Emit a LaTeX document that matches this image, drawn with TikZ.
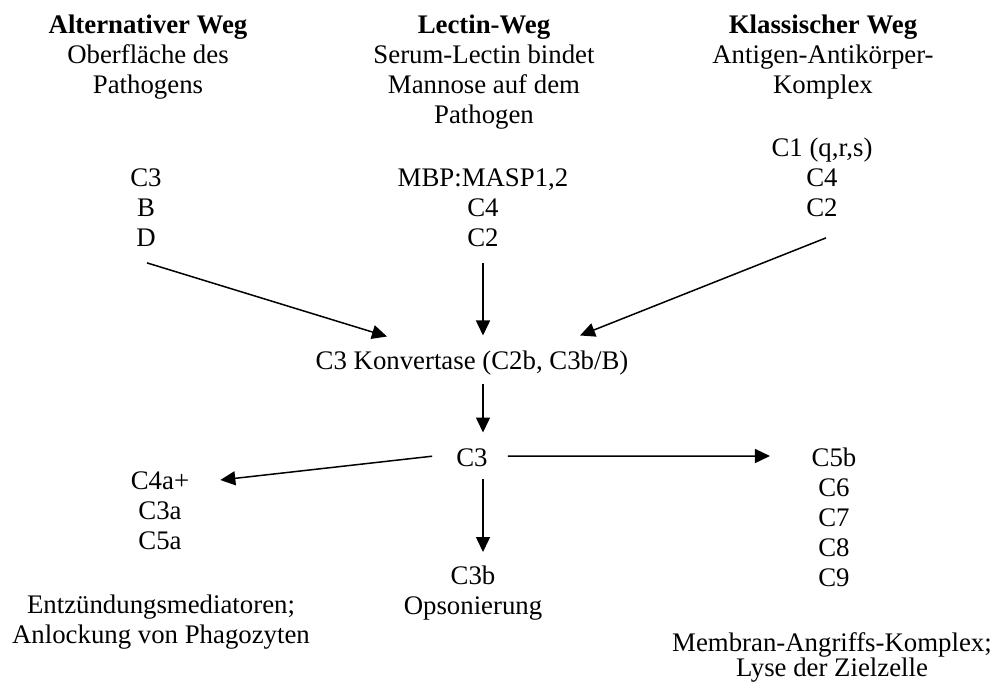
\documentclass[tikz,border=0pt]{standalone}
\usepackage{fontspec}
\setmainfont{Liberation Serif}
\usepackage{tikz}
\usetikzlibrary{arrows.meta}
\tikzset{txt/.style={align=center, inner sep=0, anchor=north, font=\fontsize{26.8}{30}\selectfont}}
\tikzset{flow/.style={-{Triangle[length=15pt, width=14pt]}, line width=1.5pt}}

\begin{document}
\begin{tikzpicture}[x=1pt, y=-1pt]
  \useasboundingbox (0, 0) rectangle (993, 684);

  % the three pathways
  \node[txt] at (148, 12.5) (altHead) {\strut\textbf{Alternativer Weg}\\\strut Oberfläche des\\\strut Pathogens};
  \node[txt] at (484, 12.5) (lecHead) {\strut\textbf{Lectin-Weg}\\\strut Serum-Lectin bindet\\\strut Mannose auf dem\\\strut Pathogen};
  \node[txt] at (823, 12.5) (klaHead) {\strut\textbf{Klassischer Weg}\\\strut Antigen-Antikörper-\\\strut Komplex};

  \node[txt] at (146, 165.5) (altComp) {\strut C3\\\strut B\\\strut D};
  \node[txt] at (483, 165.5) (lecComp) {\strut MBP:MASP1,2\\\strut C4\\\strut C2};
  \node[txt] at (822, 135.5) (klaComp) {\strut C1 (q,r,s)\\\strut C4\\\strut C2};

  \node[txt] at (472, 348.5) (konv) {\strut C3 Konvertase (C2b, C3b/B)};
  \node[txt] at (472, 445.5) (c3) {\strut C3};

  % products
  \node[txt] at (160, 468.5) (anaph) {\strut C4a+\\\strut C3a\\\strut C5a};
  \node[txt] at (161, 592.5) (entz) {\strut Entzündungsmediatoren;\\\strut Anlockung von Phagozyten};
  \node[txt] at (473, 563.5) (c3b) {\strut C3b\\\strut Opsonierung};
  \node[txt] at (834, 445.5) (mak) {\strut C5b\\\strut C6\\\strut C7\\\strut C8\\\strut C9};
  \node[txt] at (832, 630.5) (lyse) {\strut Membran-Angriffs-Komplex;\\[-5pt] Lyse der Zielzelle};

  \draw[flow] ([xshift=1pt, yshift=-7pt]altComp.south) -- ([xshift=-85pt, yshift=12pt]konv.north);
  \draw[flow] ([yshift=-7pt]lecComp.south) -- ([xshift=11pt, yshift=13pt]konv.north);
  \draw[flow] ([xshift=4pt, yshift=-12pt]klaComp.south) -- ([xshift=108pt, yshift=13pt]konv.north);
  \draw[flow] ([xshift=11pt, yshift=-5pt]konv.south) -- ([xshift=11pt, yshift=13pt]c3.north);

  \draw[flow] ([xshift=-24pt, yshift=4.5pt]c3.west) -- ([xshift=31pt, yshift=-11.5pt]anaph.north east);
  \draw[flow] ([xshift=20pt, yshift=4.5pt]c3.east) -- ([xshift=-41.5pt, yshift=-10.5pt]mak.north west);
  \draw[flow] ([xshift=11pt, yshift=-3.5pt]c3.south) -- ([xshift=10pt, yshift=11.5pt]c3b.north);
\end{tikzpicture}
\end{document}
